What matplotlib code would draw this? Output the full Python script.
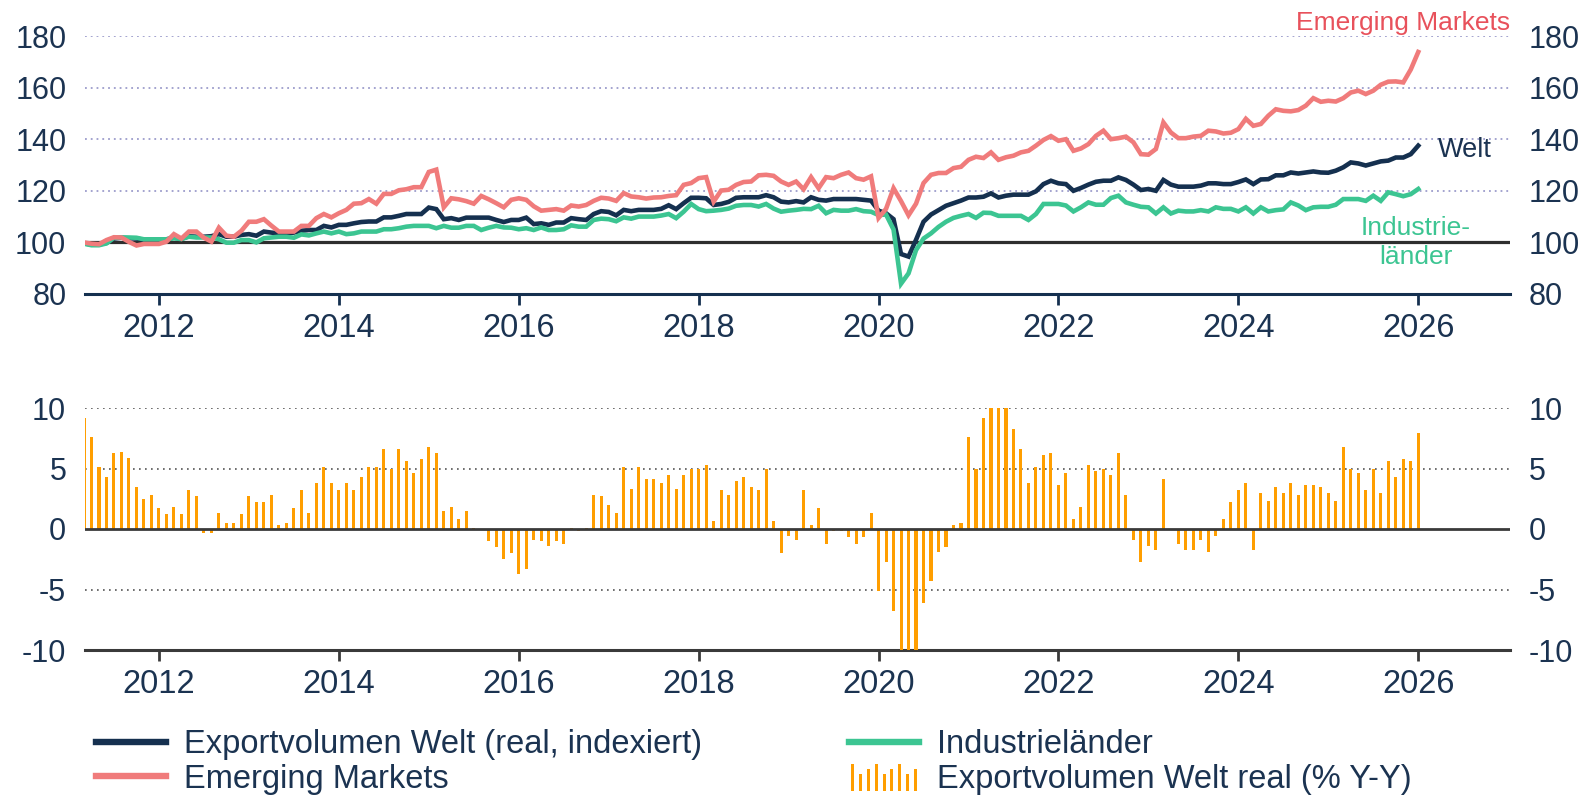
import numpy as np
import pandas as pd
import matplotlib
matplotlib.use("Agg")
import matplotlib.pyplot as plt
from matplotlib.legend_handler import HandlerBase
from matplotlib.patches import Rectangle
from matplotlib.lines import Line2D
from matplotlib.container import BarContainer

plt.rcParams['font.family'] = ['Liberation Sans', 'DejaVu Sans']

# ---------------- data (monthly, starting March 2011) ----------------
start_month = "2011-03-01"

welt = [
    99.6, 99.2, 99.2, 99.8, 101.5, 101.8, 101.6, 101.5, 101.0, 101.0,
    101.0, 101.2, 101.8, 101.4, 102.4, 102.2, 102.2, 102.4, 103.2, 102.2,
    102.2, 102.9, 103.2, 102.6, 104.2, 103.8, 103.5, 103.5, 103.8, 104.5,
    104.8, 104.8, 106.4, 105.8, 106.8, 106.8, 107.4, 107.9, 108.1, 108.1,
    109.7, 109.7, 110.3, 111.0, 111.0, 111.0, 113.5, 112.9, 109.0, 109.4,
    108.7, 109.6, 109.6, 109.6, 109.6, 108.7, 107.9, 108.7, 108.7, 109.6,
    107.1, 107.4, 106.8, 107.7, 107.7, 109.4, 109.0, 108.7, 111.0, 112.1,
    111.8, 110.5, 112.6, 112.1, 112.6, 112.6, 112.6, 113.0, 114.4, 112.9,
    115.2, 117.3, 117.3, 117.1, 114.5, 114.9, 115.7, 117.3, 117.5, 117.5,
    117.5, 118.3, 117.5, 115.8, 115.5, 116.0, 115.5, 117.5, 116.5, 116.2,
    116.8, 116.8, 116.8, 116.8, 116.5, 116.2, 112.3, 111.3, 109.0, 95.5,
    94.5, 101.0, 108.0, 110.8, 112.5, 114.2, 115.2, 116.2, 117.4, 117.4,
    117.7, 119.0, 117.4, 118.1, 118.5, 118.5, 118.5, 119.8, 122.6, 123.9,
    122.9, 122.6, 120.0, 121.1, 122.4, 123.5, 123.9, 123.9, 125.2, 124.2,
    122.4, 120.3, 120.7, 120.0, 124.2, 122.4, 121.6, 121.6, 121.6, 122.0,
    122.9, 122.9, 122.6, 122.6, 123.4, 124.4, 122.6, 124.4, 124.5, 126.0,
    126.0, 127.1, 126.7, 127.1, 127.5, 127.1, 127.0, 127.8, 129.1, 131.0,
    130.6, 129.8, 130.6, 131.4, 131.7, 132.9, 132.9, 134.2, 137.5,
]

emerging = [
    100.0, 99.5, 99.3, 100.9, 102.0, 101.9, 100.2, 98.8, 99.4, 99.4,
    99.4, 100.3, 103.2, 101.5, 104.2, 104.2, 101.8, 100.3, 105.7, 102.6,
    102.2, 104.5, 108.0, 108.0, 109.0, 106.5, 104.2, 104.2, 104.2, 106.4,
    106.4, 109.4, 111.0, 109.7, 111.3, 112.6, 115.0, 115.2, 116.8, 115.0,
    118.8, 118.8, 120.2, 120.6, 121.4, 121.4, 127.3, 128.2, 113.6, 117.1,
    116.7, 116.0, 115.0, 118.0, 116.7, 115.2, 113.6, 116.5, 117.1, 116.5,
    114.0, 112.3, 112.6, 112.9, 112.3, 114.3, 113.9, 114.5, 116.1, 117.3,
    117.0, 116.1, 119.1, 117.8, 117.5, 117.0, 117.4, 117.5, 118.0, 118.3,
    122.3, 123.0, 124.9, 125.3, 115.8, 120.1, 120.4, 122.3, 123.4, 123.6,
    126.0, 126.2, 125.8, 123.6, 122.3, 123.6, 120.6, 125.3, 121.0, 125.3,
    124.9, 126.2, 127.1, 124.9, 124.3, 125.6, 109.5, 113.0, 121.0, 116.0,
    110.5, 115.0, 123.0, 126.2, 126.9, 126.9, 128.8, 129.3, 132.0, 133.2,
    132.7, 134.9, 132.0, 133.0, 133.6, 134.9, 135.5, 137.5, 139.7, 141.2,
    139.4, 140.0, 135.5, 136.4, 138.1, 141.3, 143.3, 140.0, 140.4, 141.0,
    138.8, 134.2, 134.0, 136.2, 146.5, 142.6, 140.4, 140.4, 141.0, 141.3,
    143.3, 143.0, 142.2, 142.5, 143.9, 147.9, 145.2, 145.9, 149.1, 151.6,
    151.0, 150.8, 151.3, 153.0, 155.9, 154.5, 154.9, 154.6, 155.9, 158.1,
    158.8, 157.5, 158.8, 161.1, 162.3, 162.4, 162.0, 167.0, 173.8,
]

industrie = [
    99.5, 98.9, 98.9, 99.6, 101.8, 101.9, 101.9, 101.8, 101.2, 101.2,
    101.2, 101.2, 101.6, 101.3, 102.2, 101.9, 101.9, 101.9, 101.2, 99.9,
    99.9, 100.9, 100.9, 100.0, 101.6, 101.9, 102.2, 102.2, 101.8, 103.1,
    102.7, 103.5, 104.2, 103.5, 104.2, 103.2, 103.5, 104.2, 104.2, 104.2,
    105.1, 105.1, 105.5, 106.1, 106.4, 106.4, 106.4, 105.5, 106.4, 105.7,
    105.7, 106.4, 106.4, 104.8, 105.7, 106.4, 105.8, 105.7, 105.1, 105.5,
    104.8, 105.8, 104.8, 104.8, 105.1, 106.6, 106.1, 106.1, 108.7, 109.2,
    109.0, 108.2, 109.7, 109.2, 110.0, 110.0, 110.0, 110.4, 111.0, 109.4,
    111.9, 114.9, 112.9, 112.1, 112.3, 112.6, 113.1, 114.2, 114.5, 114.5,
    113.9, 114.9, 113.1, 111.9, 112.3, 112.6, 113.0, 112.9, 114.2, 111.3,
    112.6, 112.3, 112.3, 112.9, 112.1, 111.9, 110.6, 110.8, 105.0, 84.0,
    88.0, 97.0, 101.5, 103.5, 106.0, 108.0, 109.5, 110.3, 111.0, 109.5,
    111.5, 111.4, 110.3, 110.3, 110.3, 110.3, 108.7, 111.0, 114.9, 114.9,
    114.9, 114.3, 112.0, 113.6, 115.5, 114.6, 114.6, 117.2, 118.1, 115.5,
    114.6, 113.8, 113.6, 111.2, 113.6, 111.2, 112.3, 112.0, 112.0, 112.5,
    112.0, 113.6, 113.0, 113.0, 112.0, 113.6, 111.2, 113.6, 112.0, 112.5,
    112.8, 115.5, 114.3, 112.5, 113.6, 113.8, 113.8, 114.6, 116.8, 116.8,
    116.8, 116.1, 118.1, 116.1, 119.4, 118.7, 117.9, 118.7, 120.7,
]

yoy = [
    9.2, 7.6, 5.1, 4.3, 6.3, 6.4, 5.9, 3.5, 2.5, 2.8,
    1.7, 1.2, 1.8, 1.2, 3.2, 2.7, -0.35, -0.35, 1.3, 0.5,
    0.5, 1.2, 2.7, 2.2, 2.2, 2.8, 0.35, 0.5, 1.7, 3.2,
    1.3, 3.8, 5.1, 3.8, 3.2, 3.8, 3.2, 4.3, 5.1, 5.1,
    6.6, 5.0, 6.6, 5.6, 4.6, 5.8, 6.8, 6.3, 1.5, 1.8,
    0.85, 1.5, 0.05, -0.05, -1.0, -1.5, -2.5, -2.0, -3.7, -3.3,
    -0.9, -1.0, -1.4, -1.0, -1.2, 0.05, -0.2, 0.05, 2.8, 2.7,
    2.0, 1.3, 5.1, 3.3, 5.1, 4.1, 4.1, 3.8, 4.5, 3.3,
    4.5, 5.0, 5.0, 5.3, 0.7, 3.2, 2.8, 4.0, 4.3, 3.5,
    3.2, 5.0, 0.7, -2.0, -0.55, -0.9, 3.2, 0.35, 1.7, -1.2,
    -0.2, -0.2, -0.7, -1.2, -0.7, 1.3, -5.15, -2.7, -6.8, -14.0,
    -17.0, -12.0, -6.1, -4.3, -1.9, -1.5, 0.35, 0.5, 7.6, 5.0,
    9.2, 12.0, 13.0, 11.0, 8.25, 6.6, 3.8, 5.1, 6.1, 6.3,
    3.6, 4.6, 0.85, 1.8, 5.3, 4.8, 5.0, 4.5, 6.3, 2.8,
    -0.9, -2.7, -1.4, -1.7, 4.1, 0.0, -1.2, -1.7, -1.7, -0.9,
    -1.9, -0.55, 0.85, 2.2, 3.2, 3.8, -1.7, 3.0, 2.3, 3.5,
    3.0, 3.8, 2.8, 3.6, 3.6, 3.5, 3.0, 2.3, 6.8, 5.0,
    4.6, 3.2, 5.0, 3.0, 5.6, 4.3, 5.8, 5.6, 7.9,
]

top_ticks = [80, 100, 120, 140, 160, 180]
bottom_ticks = [-10, -5, 0, 5, 10]
year_ticks = [2012, 2014, 2016, 2018, 2020, 2022, 2024, 2026]

legend_labels = ["Exportvolumen Welt (real, indexiert)", "Emerging Markets",
                 "Industrieländer", "Exportvolumen Welt real (% Y-Y)"]

# ---------------- styling ----------------
NAVY = "#15304F"
TEXT = "#1B3351"
PINK = "#F07B7B"
PINK_TXT = "#E8515B"
GREEN = "#3CC592"
ORANGE = "#FF9E00"
GRID_TOP = "#9C9CCB"
GRID_BOT = "#555555"

dates = pd.date_range(start_month, periods=len(welt), freq="MS")
x = np.asarray(dates.year + (dates.month - 1) / 12.0, dtype=float)

W, H = 1583, 795
fig = plt.figure(figsize=(W / 100, H / 100), dpi=100)
ax1 = fig.add_axes([85 / W, 1 - 294 / H, 1425 / W, 258 / H])
ax2 = fig.add_axes([85 / W, 1 - 650 / H, 1425 / W, 242 / H])

XLIM = (2011.178, 2027.02)

for ax in (ax1, ax2):
    ax.set_xlim(*XLIM)
    for s in ("top", "left", "right"):
        ax.spines[s].set_visible(False)
    ax.spines["bottom"].set_linewidth(2.2)
    ax.set_xticks(year_ticks)
    ax.set_xticklabels([str(y) for y in year_ticks])
    ax.tick_params(axis="x", length=8, width=2, pad=6, labelsize=23.5,
                   labelcolor=TEXT)
    ax.tick_params(axis="y", length=0, pad=13.5, labelsize=22, labelcolor=TEXT,
                   labelleft=True, labelright=True)

# ---- top panel ----
ax1.set_ylim(80, 180)
ax1.set_yticks(top_ticks)
ax1.spines["bottom"].set_color(NAVY)
ax1.tick_params(axis="x", color=NAVY)
for v in top_ticks[2:]:
    ax1.axhline(v, color=GRID_TOP, lw=1.3, ls=(0, (1, 2.2)), zorder=1)
ax1.axhline(100, color="#2E2E2E", lw=2.3, zorder=2)

ax1.plot(x, welt, color=NAVY, lw=3.3, zorder=3, solid_joinstyle="miter")
ax1.plot(x, industrie, color=GREEN, lw=3.3, zorder=4, solid_joinstyle="miter")
ax1.plot(x, emerging, color=PINK, lw=3.3, zorder=5, solid_joinstyle="miter")

ax1.text(XLIM[1], 185, "Emerging Markets", color=PINK_TXT, fontsize=19,
         ha="right", va="center", clip_on=False)
ax1.text(2026.22, 135.8, "Welt", color=TEXT, fontsize=19.5, ha="left", va="center")
ax1.text(2025.97, 100, "Industrie-\nländer", color=GREEN, fontsize=19,
         ha="center", va="center", linespacing=1.25)

# ---- bottom panel ----
ax2.set_ylim(-10, 10)
ax2.set_yticks(bottom_ticks)
ax2.set_yticklabels([str(v) for v in bottom_ticks])
ax2.spines["bottom"].set_color("#3A3A3A")
ax2.tick_params(axis="x", color="#3A3A3A")
for v in (5, 10, -5):
    ax2.axhline(v, color=GRID_BOT, lw=1.2, ls=(0, (1, 2.6)), zorder=1)
ax2.axhline(0, color="#3A3A3A", lw=2.0, zorder=4)
bars = ax2.bar(x, yoy, width=0.034, color=ORANGE, zorder=3)


# ---------------- legend ----------------
class BarHandler(HandlerBase):
    def create_artists(self, legend, orig_handle, xdescent, ydescent,
                       width, height, fontsize, trans):
        rel = [1.2, 0.75, 0.98, 1.2, 0.75, 0.98, 1.2, 0.75, 0.98]
        n = len(rel)
        step = width / n
        arts = []
        for k, r in enumerate(rel):
            rect = Rectangle((-xdescent + k * step + step * 0.3, -ydescent - height * 0.15),
                             step * 0.4, height * r, facecolor=ORANGE,
                             edgecolor="none", transform=trans)
            arts.append(rect)
        return arts


handles = [Line2D([], [], color=NAVY, lw=4.6),
           Line2D([], [], color=PINK, lw=4.6),
           Line2D([], [], color=GREEN, lw=4.6),
           bars]
fig.legend(handles, legend_labels, loc="upper left",
           bbox_to_anchor=(96 / W, 1 - 729 / H), ncol=2, frameon=False,
           fontsize=23.5, handlelength=2.15, handletextpad=0.55,
           columnspacing=4.5, labelspacing=0.12, borderpad=0,
           borderaxespad=0, labelcolor=TEXT,
           handler_map={BarContainer: BarHandler()})

fig.savefig("out.png", dpi=100)
